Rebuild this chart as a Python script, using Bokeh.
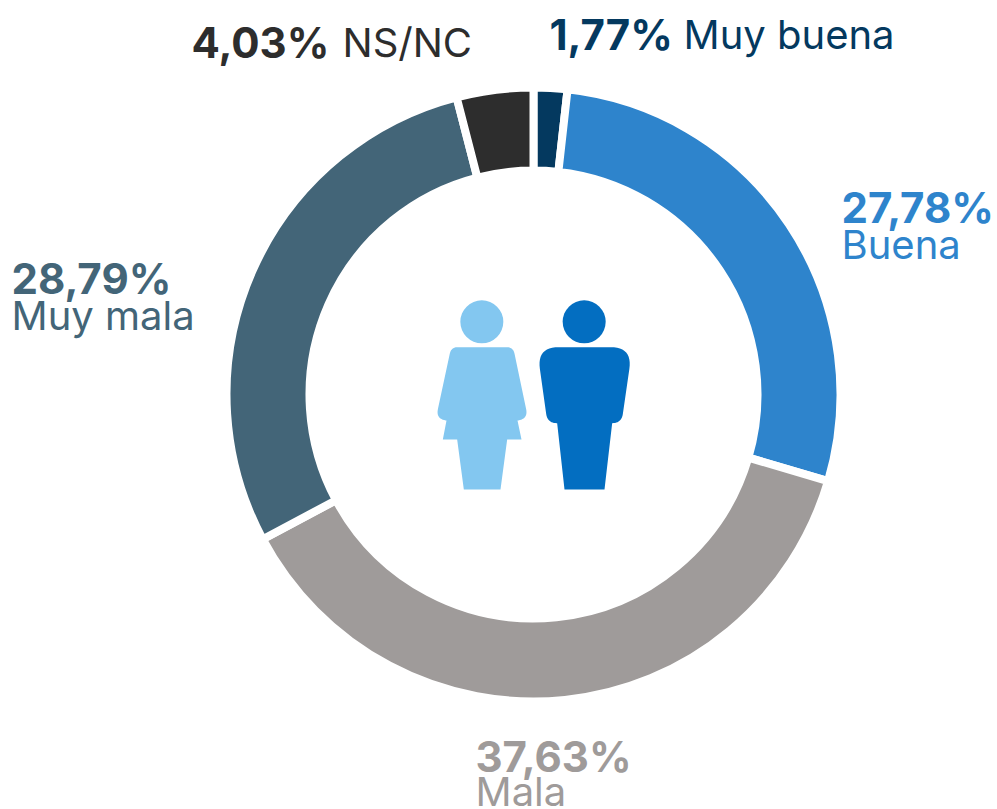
from math import pi
from bokeh.plotting import figure
from bokeh.models import Range1d
from bokeh.core.properties import value
from bokeh.embed import file_html
from bokeh.resources import INLINE

categories = ["Muy buena", "Buena", "Mala", "Muy mala", "NS/NC"]
values = [1.77, 27.78, 37.63, 28.79, 4.03]
labels = ["1,77%", "27,78%", "37,63%", "28,79%", "4,03%"]
colors = ["#04395F", "#2E84CC", "#9F9B9A", "#436578", "#2D2D2D"]

W, H = 997, 809
FONT = "Inter"
Y = lambda y: H - y

p = figure(width=W, height=H, x_range=Range1d(0, W), y_range=Range1d(0, H),
           output_backend="svg", toolbar_location=None, min_border=0,
           outline_line_color=None, margin=(0, 0, 0, 0))
p.axis.visible = False
p.grid.visible = False

cx, cy, ro, ri = 533, Y(394), 307, 224
total = sum(values)
a = pi / 2
for v, c in zip(values, colors):
    b = a - 2 * pi * v / total
    p.annular_wedge(cx, cy, ri, ro, start_angle=b, end_angle=a, fill_color=c,
                    line_color="white", line_width=8)
    a = b

def txt(x, y, s, c, bold, size=38, align="left"):
    p.text([x], [Y(y - 16)], text=[s], text_color=c, text_font=value(FONT),
           text_font_size=f"{size}px", text_font_style="bold" if bold else "normal",
           text_align=align, text_baseline="alphabetic")

SB, SN = 42, 40
txt(549, 50, labels[0], colors[0], True, SB)
txt(683, 50, categories[0], colors[0], False, SN)
txt(841, 223, labels[1], colors[1], True, SB)
txt(841, 260, categories[1], colors[1], False, SN)
txt(475, 772, labels[2], colors[2], True, SB)
txt(475, 807, categories[2], colors[2], False, SN)
txt(11, 294, labels[3], colors[3], True, SB)
txt(11, 331, categories[3], colors[3], False, SN)
txt(191, 58, labels[4], colors[4], True, SB)
txt(342, 58, categories[4], colors[4], False, SN)

def rounded(pts):
    """pts: (x, y, r) in zoomed crop units; corners rounded with quadratic curves."""
    xs, ys = [], []
    n = len(pts)
    for i in range(n):
        x, y, r = pts[i]
        if r == 0:
            xs.append(x); ys.append(y); continue
        px, py, _ = pts[i - 1]
        nx, ny, _ = pts[(i + 1) % n]
        d1 = ((px - x) ** 2 + (py - y) ** 2) ** .5
        d2 = ((nx - x) ** 2 + (ny - y) ** 2) ** .5
        ax, ay = x + (px - x) * r / d1, y + (py - y) * r / d1
        bx, by = x + (nx - x) * r / d2, y + (ny - y) * r / d2
        for k in range(13):
            t = k / 12
            xs.append((1 - t) ** 2 * ax + 2 * t * (1 - t) * x + t * t * bx)
            ys.append((1 - t) ** 2 * ay + 2 * t * (1 - t) * y + t * t * by)
    return [420 + q / 3 for q in xs], [Y(290 + q / 3) for q in ys]

woman = [(92, 170, 20), (278, 170, 20), (323, 385, 30), (291, 390, 0), (303, 447, 0), (260, 447, 0),
         (240, 597, 0), (130, 597, 0), (110, 447, 0), (67, 447, 0), (78, 390, 0), (46, 385, 30)]
man = [(349, 170, 66), (636, 170, 66), (603, 398, 28), (575, 398, 0), (552, 597, 0),
       (432, 597, 0), (410, 398, 0), (381, 398, 28)]
WOMAN_C, MAN_C = "#83C7F0", "#036EC1"
x, y = rounded(woman)
p.patch(x, y, fill_color=WOMAN_C, line_color=None)
x, y = rounded(man)
p.patch(x, y, fill_color=MAN_C, line_color=None)
p.circle([420 + 184 / 3], [Y(290 + 94 / 3)], radius=21.5, fill_color=WOMAN_C, line_color=None)
p.circle([420 + 491 / 3], [Y(290 + 94 / 3)], radius=21.5, fill_color=MAN_C, line_color=None)

open("out.html", "w").write(file_html(p, INLINE))
